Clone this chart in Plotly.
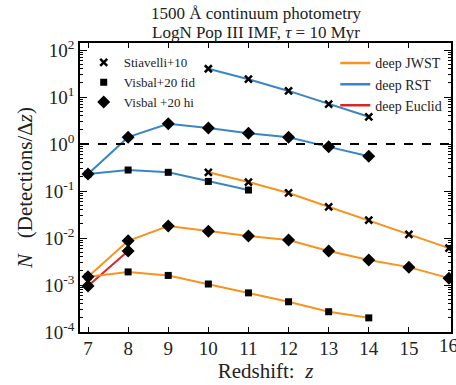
import plotly.graph_objects as go

# ---------------- data ----------------
z_st_rst = [10, 11, 12, 13, 14]
n_st_rst = [40, 24, 13.5, 7.1, 3.8]

z_hi_rst = [7, 8, 9, 10, 11, 12, 13, 14]
n_hi_rst = [0.23, 1.4, 2.7, 2.2, 1.7, 1.4, 0.87, 0.55]

z_fid_rst = [7, 8, 9, 10, 11]
n_fid_rst = [0.23, 0.28, 0.25, 0.16, 0.105]

z_st_jwst = [10, 11, 12, 13, 14, 15, 16]
n_st_jwst = [0.25, 0.155, 0.091, 0.046, 0.024, 0.012, 0.0061]

z_hi_jwst = [7, 8, 9, 10, 11, 12, 13, 14, 15, 16]
n_hi_jwst = [0.0015, 0.0087, 0.018, 0.014, 0.011, 0.0091, 0.0053, 0.0034, 0.0024, 0.0014]

z_fid_jwst = [7, 8, 9, 10, 11, 12, 13, 14]
n_fid_jwst = [0.0015, 0.0019, 0.0016, 0.00105, 0.00068, 0.00044, 0.00027, 0.0002]

z_hi_euc = [7, 8]
n_hi_euc = [0.00095, 0.0053]

x_ticks = [7, 8, 9, 10, 11, 12, 13, 14, 15, 16]
decades = [-4, -3, -2, -1, 0, 1, 2]
threshold = 1.0

ORANGE = "#f7931e"
BLUE = "#3a86c4"
RED = "#d62728"
FONT = "Liberation Serif"
TXT = "#222"

MSYM = {"st": "x-thin-open", "fid": "square", "hi": "diamond"}
MSIZE = {"st": 7, "fid": 7, "hi": 10}

# y ticks: decades labelled, minor positions unlabelled
y_tickvals, y_ticktext = [], []
for e in decades:
    for m in range(1, 10):
        v = m * 10.0 ** e
        if v > 10 ** 2.15:
            break
        y_tickvals.append(v)
        y_ticktext.append(f"10<sup>{e}</sup>" if m == 1 else "")
major_vals = [10.0 ** e for e in decades]

fig = go.Figure()


def marker(kind):
    mk = dict(color="black", symbol=MSYM[kind], size=MSIZE[kind])
    if kind == "st":
        mk["line"] = dict(color="black", width=2.5)
    return mk


def add_series(x, y, color, kind):
    fig.add_trace(go.Scatter(x=x, y=y, mode="lines+markers",
                             line=dict(color=color, width=2),
                             marker=marker(kind), showlegend=False))


add_series(z_hi_euc, n_hi_euc, RED, "hi")
add_series(z_fid_jwst, n_fid_jwst, ORANGE, "fid")
add_series(z_hi_jwst, n_hi_jwst, ORANGE, "hi")
add_series(z_st_jwst, n_st_jwst, ORANGE, "st")
add_series(z_fid_rst, n_fid_rst, BLUE, "fid")
add_series(z_hi_rst, n_hi_rst, BLUE, "hi")
add_series(z_st_rst, n_st_rst, BLUE, "st")

# carrier for the overlay axis with longer major ticks
fig.add_trace(go.Scatter(x=[7], y=[1], yaxis="y2", mode="markers", marker=dict(opacity=0),
                         showlegend=False, hoverinfo="skip"))

# legend 1: marker styles
for name, kind in [("Stiavelli+10", "st"), ("Visbal+20 fid", "fid"), ("Visbal +20 hi", "hi")]:
    fig.add_trace(go.Scatter(x=[None], y=[None], mode="markers", name=name,
                             marker=marker(kind), legend="legend"))

# legend 2: line colours
for name, col in [("deep JWST", ORANGE), ("deep RST", BLUE), ("deep Euclid", RED)]:
    fig.add_trace(go.Scatter(x=[None], y=[None], mode="lines", name=name,
                             line=dict(color=col, width=2.5), legend="legend2"))

fig.add_shape(type="line", xref="paper", x0=0, x1=1, yref="y", y0=threshold, y1=threshold,
              line=dict(color="black", width=2, dash="dash"))

# title as two annotations
fig.add_annotation(text="1500 Å continuum photometry", xref="paper", yref="paper",
                   x=0.475, y=1.101, xanchor="center", yanchor="middle", showarrow=False,
                   font=dict(size=17, family=FONT, color=TXT))
fig.add_annotation(text="LogN Pop III IMF, <i>τ</i> = 10 Myr", xref="paper", yref="paper",
                   x=0.475, y=1.036, xanchor="center", yanchor="middle", showarrow=False,
                   font=dict(size=17, family=FONT, color=TXT))
# last x tick label (partly outside the figure, as in the reference)
fig.add_annotation(text="16", xref="x", x=x_ticks[-1], yref="paper", y=-0.045,
                   xanchor="center", yanchor="middle", showarrow=False,
                   font=dict(size=19, family=FONT, color=TXT))

fig.update_layout(
    width=456, height=385,
    margin=dict(l=80, r=3, t=43, b=53),
    paper_bgcolor="white", plot_bgcolor="white",
    font=dict(family=FONT, color=TXT, size=18),
    showlegend=True,
    xaxis=dict(range=[6.8, 16.05], tickvals=x_ticks[:-1], ticks="inside", ticklen=5,
               tickcolor="black", tickwidth=1.2,
               showline=True, linecolor="black", linewidth=1.5, mirror="ticks",
               showgrid=False, zeroline=False, tickfont=dict(size=19, family=FONT),
               ticklabelstandoff=-2,
               title=dict(text="Redshift:  <i>z</i>", font=dict(size=21, family=FONT), standoff=6)),
    yaxis=dict(type="log", range=[-4, 2.15], tickvals=y_tickvals, ticktext=y_ticktext,
               ticks="inside", ticklen=3.5, tickcolor="black", tickwidth=1.2,
               showline=True, linecolor="black", linewidth=1.5, mirror="ticks",
               showgrid=False, zeroline=False, tickfont=dict(size=19, family=FONT),
               title=dict(text="<i>N</i>   (Detections/Δ<i>z</i>)", font=dict(size=21, family=FONT),
                          standoff=6)),
    yaxis2=dict(type="log", range=[-4, 2.15], overlaying="y", side="left",
                tickvals=major_vals, ticks="inside", ticklen=7, tickcolor="black", tickwidth=1.2,
                showticklabels=False, showline=False, mirror="ticks",
                showgrid=False, zeroline=False),
    legend=dict(x=0.01, y=0.985, xanchor="left", yanchor="top", bgcolor="rgba(0,0,0,0)",
                font=dict(size=13, family=FONT), itemwidth=30, tracegroupgap=0),
    legend2=dict(x=0.99, y=0.985, xanchor="right", yanchor="top", bgcolor="rgba(0,0,0,0)",
                 font=dict(size=14, family=FONT), itemwidth=30, tracegroupgap=0),
)

fig.write_html("out.html")
